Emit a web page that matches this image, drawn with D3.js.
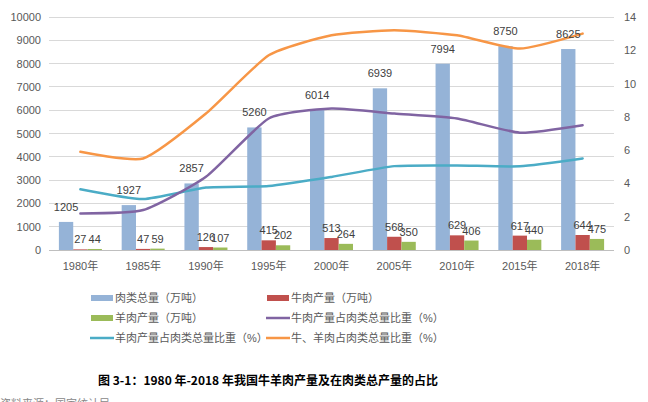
<!DOCTYPE html>
<html><head><meta charset="utf-8">
<script src="https://cdn.jsdelivr.net/npm/d3@7"></script>
<style>body{margin:0;background:#fff;} svg{display:block;}</style>
</head><body>
<svg id="c" width="648" height="402"></svg>
<script>
const years = ["1980年","1985年","1990年","1995年","2000年","2005年","2010年","2015年","2018年"];
const meatTotal = [1205,1927,2857,5260,6014,6939,7994,8750,8625];
const beef = [27,47,126,415,513,568,629,617,644];
const mutton = [44,59,107,202,264,350,406,440,475];
const beefShare = [2.2,2.4,4.4,7.9,8.5,8.2,7.9,7.05,7.5];
const muttonShare = [3.65,3.06,3.75,3.84,4.39,5.04,5.08,5.03,5.5];
const bothShare = [5.9,5.5,8.2,11.7,12.9,13.2,12.9,12.1,13.0];
const leftTicks = [0,1000,2000,3000,4000,5000,6000,7000,8000,9000,10000];
const rightTicks = [0,2,4,6,8,10,12,14];
const legendLabels = ["肉类总量（万吨）","牛肉产量（万吨）","羊肉产量（万吨）","牛肉产量占肉类总量比重（%）","羊肉产量占肉类总量比重（%）","牛、羊肉占肉类总量比重（%）"];
const titleText = "图 3-1：1980 年-2018 年我国牛羊肉产量及在肉类总产量的占比";
const sourceText = "资料来源：国家统计局";

const C = {blue:"#95B3D7", red:"#C0504D", green:"#9BBB59", purple:"#8064A2", teal:"#4BACC6", orange:"#F79646"};
const font = "'Liberation Sans', Arial, 'Noto Sans CJK SC', sans-serif";
const svg = d3.select("#c");

const x = d3.scaleBand().domain(years).range([49,614]).padding(0);
const yL = d3.scaleLinear().domain([0,10000]).range([250,17]);
const yR = d3.scaleLinear().domain([0,14]).range([250,17]);
const inner = d3.scaleBand().domain(["t","b","m"]).range([-21.5,21.5]).padding(0);

// gridlines
svg.append("g").selectAll("line").data(leftTicks).join("line")
  .attr("x1",49).attr("x2",614).attr("y1",d=>yL(d)).attr("y2",d=>yL(d))
  .attr("stroke",d=>d===0?"#bfbfbf":"#d9d9d9").attr("stroke-width",1).attr("shape-rendering","crispEdges");

// left axis
const gL = svg.append("g").attr("transform","translate(49,0)")
  .call(d3.axisLeft(yL).tickValues(leftTicks).tickSize(0).tickPadding(8).tickFormat(d3.format("d")));
gL.select(".domain").remove();
gL.selectAll("text").attr("font-family",font).attr("font-size",11).attr("fill","#595959");

// right axis
const gR = svg.append("g").attr("transform","translate(614,0)")
  .call(d3.axisRight(yR).tickValues(rightTicks).tickSize(0).tickPadding(10).tickFormat(d3.format("d")));
gR.select(".domain").remove();
gR.selectAll("text").attr("font-family",font).attr("font-size",11).attr("fill","#595959");

// bottom axis
const gB = svg.append("g").attr("transform","translate(0,250)")
  .call(d3.axisBottom(x).tickSize(0).tickPadding(12));
gB.select(".domain").remove();
gB.selectAll("text").attr("font-family",font).attr("font-size",11).attr("fill","#595959");

// bars
const series = [{k:"t",v:meatTotal,c:C.blue,off:11},{k:"b",v:beef,c:C.red,off:6},{k:"m",v:mutton,c:C.green,off:6}];
series.forEach(s=>{
  const g = svg.append("g");
  g.selectAll("rect").data(s.v).join("rect")
    .attr("x",(d,i)=>x(years[i])+x.bandwidth()/2+inner(s.k))
    .attr("width",inner.bandwidth())
    .attr("y",d=>yL(d)).attr("height",d=>yL(0)-yL(d)).attr("fill",s.c);
});

// lines
const lineGen = v => d3.line().x((d,i)=>x(years[i])+x.bandwidth()/2).y(d=>yR(d)).curve(d3.curveCardinal.tension(0.45))(v);
[[muttonShare,C.teal],[beefShare,C.purple],[bothShare,C.orange]].forEach(([v,c])=>{
  svg.append("path").attr("d",lineGen(v)).attr("fill","none").attr("stroke",c).attr("stroke-width",2.5).attr("stroke-linecap","round");
});

// data labels
series.forEach(s=>{
  svg.append("g").selectAll("text").data(s.v).join("text")
    .attr("x",(d,i)=>x(years[i])+x.bandwidth()/2+inner(s.k)+inner.bandwidth()/2)
    .attr("y",d=>yL(d)-s.off)
    .attr("text-anchor","middle").attr("font-family",font).attr("font-size",11).attr("fill","#404040")
    .text(d=>d);
});

// legend
const leg = [
  {t:"rect",c:C.blue,x:91,y:298},{t:"rect",c:C.red,x:267,y:298},
  {t:"rect",c:C.green,x:91,y:318},{t:"line",c:C.purple,x:267,y:318},
  {t:"line",c:C.teal,x:91,y:338},{t:"line",c:C.orange,x:267,y:338}];
leg.forEach((l,i)=>{
  if(l.t==="rect") svg.append("rect").attr("x",l.x).attr("y",l.y-3).attr("width",22).attr("height",6).attr("fill",l.c);
  else svg.append("line").attr("x1",l.x-1).attr("x2",l.x+23).attr("y1",l.y).attr("y2",l.y).attr("stroke",l.c).attr("stroke-width",2.5);
  svg.append("text").attr("x",l.x+24).attr("y",l.y+4).attr("font-family",font).attr("font-size",11).attr("fill","#595959").text(legendLabels[i]);
});

// title
svg.append("text").attr("x",268).attr("y",385).attr("text-anchor","middle")
  .attr("font-family","'Noto Sans CJK SC', sans-serif").attr("font-size",12).attr("font-weight",600).attr("fill","#000").text(titleText);
svg.append("text").attr("x",0).attr("y",408)
  .attr("font-family","'Noto Sans CJK SC', sans-serif").attr("font-size",11).attr("fill","#888").text(sourceText);
</script>
</body></html>
